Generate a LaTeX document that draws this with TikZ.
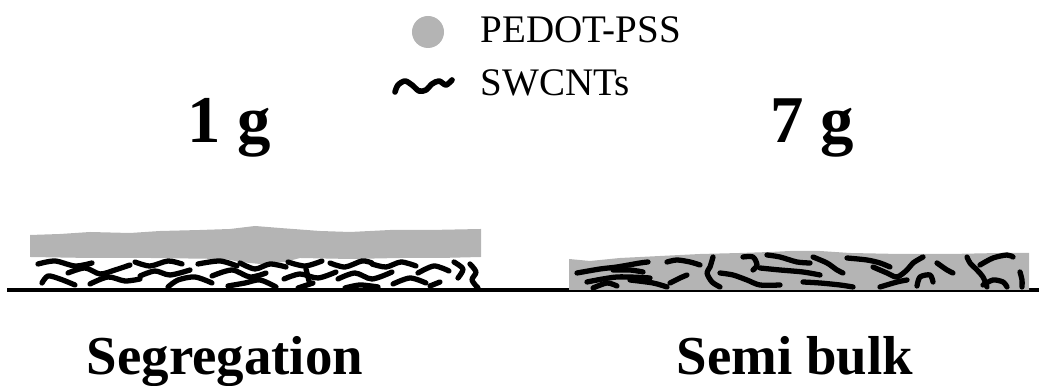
\documentclass[tikz,border=0pt]{standalone}
\usepackage{fontspec}
\setmainfont{Liberation Serif}
\definecolor{pedot}{RGB}{180,180,180}

\begin{document}
\begin{tikzpicture}[x=0.01cm, y=-0.01cm,
    cnt/.style={black, line width=1.5pt, line cap=round, line join=round},
    film/.style={fill=pedot},
    mass/.style={anchor=base, inner sep=0pt, font=\fontsize{19}{22}\selectfont\bfseries},
    caption/.style={anchor=base, inner sep=0pt, font=\fontsize{15.6}{18}\selectfont\bfseries},
    legend/.style={anchor=base west, inner sep=0pt, font=\fontsize{11.1}{13}\selectfont}]
    \useasboundingbox (0,0) rectangle (1039,386);

    % Legend
    \fill[pedot] (428,32) circle (0.16cm);
    \node[legend] (leg-pedot) at (480,43) {PEDOT-PSS};
    \draw[cnt, line width=1.6pt] plot[smooth] coordinates {(395,92) (398,85) (405,81) (412,85) (419,91) (426,90) (432,84) (439,81) (446,85) (452,80)};
    \node[legend] (leg-cnt) at (480,96) {SWCNTs};

    % Mass labels
    \node[mass] (mass-1) at (229,143) {1 g};
    \node[mass] (mass-7) at (812,143) {7 g};

    % Substrate
    \draw[line width=1pt] (7,290) -- (1039,290);

    % Segregation: PEDOT-PSS layer on top of a bare nanotube mat
    \fill[film] (30,235) -- (60,234) -- (90,232) -- (130,233) -- (160,231) -- (200,230) -- (230,229)
        -- (255,226) -- (280,228) -- (320,231) -- (350,232) -- (390,230) -- (430,230) -- (481,229)
        -- (481,257) -- (440,258) -- (400,258) -- (350,259) -- (300,258) -- (285,262) -- (260,264)
        -- (240,262) -- (225,259) -- (150,258) -- (90,258) -- (30,257) -- cycle;
    \draw[cnt] plot[smooth] coordinates {(38,264) (55,261) (75,266) (92,263)};
    \draw[cnt] plot[smooth] coordinates {(42,283) (48,276) (60,279) (75,285)};
    \draw[cnt] plot[smooth] coordinates {(68,273) (85,268) (100,274) (115,270) (130,265)};
    \draw[cnt] plot[smooth] coordinates {(90,284) (108,277) (125,281) (140,279)};
    \draw[cnt] plot[smooth] coordinates {(135,262) (150,266) (168,261) (182,264)};
    \draw[cnt] plot[smooth] coordinates {(140,276) (155,271) (170,275) (190,270)};
    \draw[cnt] plot[smooth] coordinates {(168,287) (178,280) (195,277) (212,283)};
    \draw[cnt] plot[smooth] coordinates {(198,264) (220,261) (237,266)};
    \draw[cnt] plot[smooth] coordinates {(212,276) (232,270) (250,277) (266,273)};
    \draw[cnt] plot[smooth] coordinates {(240,263) (255,269) (270,264) (286,267)};
    \draw[cnt] plot[smooth] coordinates {(228,286) (245,283) (260,280) (276,287)};
    \draw[cnt] plot[smooth] coordinates {(284,279) (300,274) (318,278) (336,272)};
    \draw[cnt] plot[smooth] coordinates {(288,262) (305,266) (322,261)};
    \draw[cnt] plot[smooth] coordinates {(306,269) (309,281)};
    \draw[cnt] plot[smooth] coordinates {(298,288) (313,283)};
    \draw[cnt] plot[smooth] coordinates {(330,263) (345,267) (362,261) (372,263)};
    \draw[cnt] plot[smooth] coordinates {(338,279) (355,273) (372,279) (392,272)};
    \draw[cnt] plot[smooth] coordinates {(372,264) (386,267) (401,262) (416,266)};
    \draw[cnt] plot[smooth] coordinates {(345,288) (360,285) (378,287)};
    \draw[cnt] plot[smooth] coordinates {(393,284) (410,278) (426,283)};
    \draw[cnt] plot[smooth] coordinates {(418,273) (434,266) (449,271)};
    \draw[cnt] plot[smooth] coordinates {(430,286) (440,282)};
    \draw[cnt] plot[smooth] coordinates {(454,262) (463,269) (458,278)};
    \draw[cnt] plot[smooth] coordinates {(470,264) (476,272) (472,280) (478,288)};

    % Semi bulk: nanotubes embedded in the PEDOT-PSS film
    \fill[film] (569,290) -- (569,259) -- (590,261) -- (620,258) -- (660,256) -- (700,254) -- (740,253)
        -- (770,252) -- (790,251) -- (820,251) -- (850,253) -- (900,254) -- (950,254) -- (1000,253)
        -- (1029,253) -- (1029,290) -- cycle;
    \draw[cnt] plot[smooth] coordinates {(577,273) (600,269) (617,267) (640,263) (648,262)};
    \draw[cnt] plot[smooth] coordinates {(587,282) (617,277) (650,278)};
    \draw[cnt] plot[smooth] coordinates {(593,288) (607,283) (617,286)};
    \draw[cnt] plot[smooth] coordinates {(613,270) (630,270) (643,272)};
    \draw[cnt] plot[smooth] coordinates {(630,280) (653,283) (667,287)};
    \draw[cnt] plot[smooth] coordinates {(667,262) (677,260) (690,262) (700,265)};
    \draw[cnt] plot[smooth] coordinates {(670,283) (680,278) (687,275)};
    \draw[cnt] plot[smooth] coordinates {(713,257) (710,267) (707,273) (712,282) (720,287)};
    \draw[cnt] plot[smooth] coordinates {(720,273) (733,275) (747,280) (760,285) (780,285)};
    \draw[cnt] plot[smooth] coordinates {(743,257) (753,257) (757,265) (753,270)};
    \draw[cnt] plot[smooth] coordinates {(767,255) (780,257) (797,262) (810,263)};
    \draw[cnt] plot[smooth] coordinates {(760,268) (780,270) (803,272) (820,275)};
    \draw[cnt] plot[smooth] coordinates {(813,257) (827,263) (837,270) (843,273)};
    \draw[cnt] plot[smooth] coordinates {(803,282) (820,283) (840,285) (853,287)};
    \draw[cnt] plot[smooth] coordinates {(847,258) (867,260) (880,263) (890,267)};
    \draw[cnt] plot[smooth] coordinates {(873,267) (887,273) (897,277) (907,270) (913,263) (923,257)};
    \draw[cnt] plot[smooth] coordinates {(880,287) (897,282) (907,280)};
    \draw[cnt] plot[smooth] coordinates {(917,286) (920,277) (930,275) (933,282)};
    \draw[cnt] plot[smooth] coordinates {(937,263) (947,270) (953,273)};
    \draw[cnt] plot[smooth] coordinates {(967,257) (970,263) (977,270) (983,277) (987,287)};
    \draw[cnt] plot[smooth] coordinates {(980,265) (993,258) (1007,255) (1013,257)};
    \draw[cnt] plot[smooth] coordinates {(983,285) (993,280) (1003,282) (1007,287)};
    \draw[cnt] plot[smooth] coordinates {(1020,272) (1022,280) (1022,287)};

    % Captions
    \node[caption] (lbl-seg) at (225,375) {Segregation};
    \node[caption] (lbl-bulk) at (795,375) {Semi bulk};
\end{tikzpicture}
\end{document}
